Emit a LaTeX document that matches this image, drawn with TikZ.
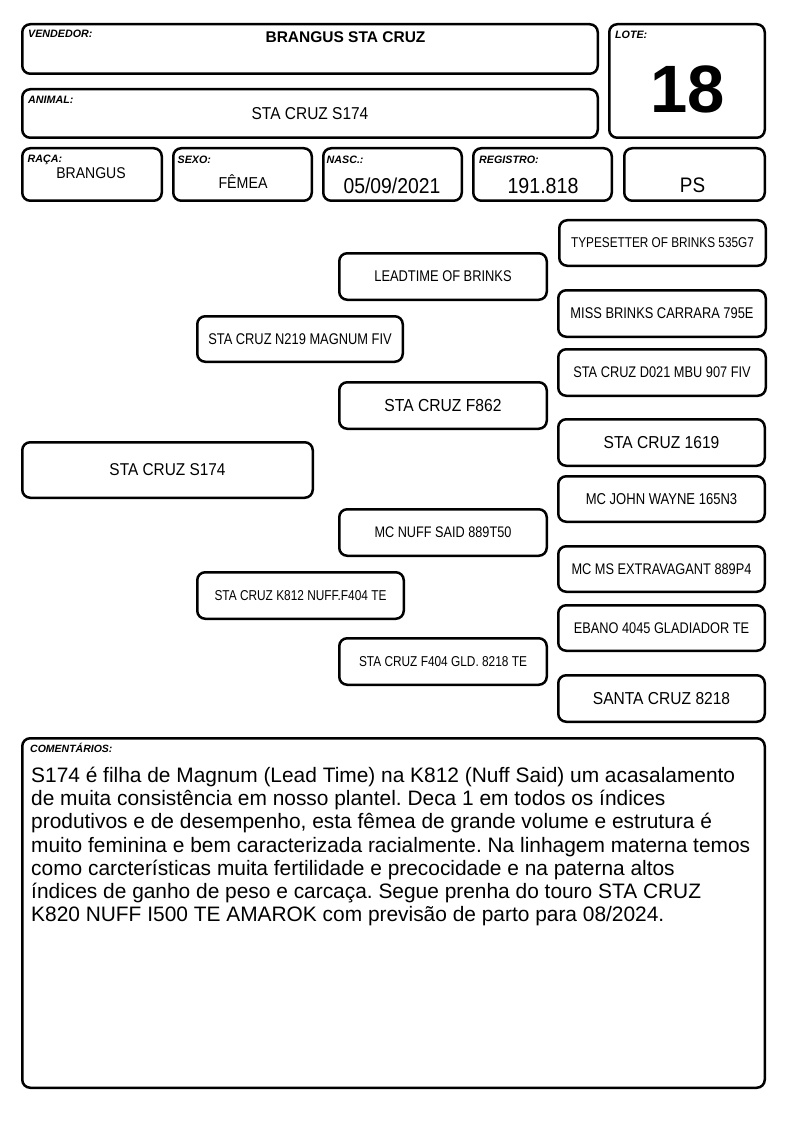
\documentclass[tikz,border=0pt]{standalone}
\usepackage{fontspec}
\setmainfont{Liberation Sans}
\newfontfamily\fa[FakeStretch=0.9]{Liberation Sans}
\newfontfamily\fb[FakeStretch=0.83]{Liberation Sans}
\frenchspacing
\tikzset{
  box/.style={draw, line width=2.5pt, rounded corners=8pt, inner sep=0pt, align=center},
  lbl/.style={anchor=base west, inner sep=0pt, font=\fontsize{10.7}{12}\selectfont\bfseries\itshape},
  val/.style={anchor=base, inner sep=0pt}
}
\newcommand\bx[7]{\node[box, minimum width={#4-#2-2.5}, minimum height={#5-#3-2.5}, font=#6] (#1) at ({(#2+#4)/2},{(#3+#5)/2}) {#7};}
\begin{document}
\begin{tikzpicture}[x=1pt,y=-1pt]
\useasboundingbox[fill=white] (0,0) rectangle (794,1123);
% header boxes
\bx{vend}{21}{23}{599}{75}{\normalfont}{}
\bx{anim}{21}{88}{599}{139}{\normalfont}{}
\bx{lote}{608}{23}{766}{139}{\normalfont}{}
\bx{raca}{21}{147}{163}{202}{\normalfont}{}
\bx{sexo}{172}{147}{313}{202}{\normalfont}{}
\bx{nasc}{322}{147}{463}{202}{\normalfont}{}
\bx{reg}{472}{147}{613}{202}{\normalfont}{}
\bx{ps}{623}{147}{766}{202}{\normalfont}{}
% header labels
\node[lbl] (lvend) at (28,38) {VENDEDOR:};
\node[lbl] (lanim) at (28,104) {ANIMAL:};
\node[lbl] (llote) at (615,38.5) {LOTE:};
\node[lbl] (lraca) at (27.5,163) {RAÇA:};
\node[lbl] (lsexo) at (177.5,163.5) {SEXO:};
\node[lbl] (lnasc) at (326.5,163.5) {NASC.:};
\node[lbl] (lreg) at (479,164) {REGISTRO:};
% header values
\node[val, font=\fontsize{15.5}{18}\selectfont\bfseries] (vvend) at (345.5,43) {BRANGUS STA CRUZ};
\node[val, font=\fa\fontsize{17.2}{20}\selectfont] (vanim) at (310,119.7) {STA CRUZ S174};
\node[val, font=\fontsize{67}{70}\selectfont\bfseries] (vlote) at (687.5,113) {18};
\node[val, font=\fa\fontsize{15.6}{18}\selectfont] (vraca) at (91,178.3) {BRANGUS};
\node[val, font=\fa\fontsize{15.8}{18}\selectfont] (vsexo) at (243,189) {FÊMEA};
\node[val, font=\fa\fontsize{21.5}{24}\selectfont] (vnasc) at (392,193.3) {05/09/2021};
\node[val, font=\fa\fontsize{21.8}{24}\selectfont] (vreg) at (543,193.3) {191.818};
\node[val, font=\fa\fontsize{21}{24}\selectfont] (vps) at (692.5,193) {PS};
% pedigree
\bx{p1}{558}{219}{767}{267}{\fb\fontsize{14.2}{16}\selectfont}{TYPESETTER OF BRINKS 535G7}
\bx{p2}{338}{252}{548}{301}{\fb\fontsize{15.5}{18}\selectfont}{LEADTIME OF BRINKS}
\bx{p3}{557}{289}{767}{338}{\fb\fontsize{15.5}{18}\selectfont}{MISS BRINKS CARRARA 795E}
\bx{p4}{196}{315}{404}{363}{\fb\fontsize{15.5}{18}\selectfont}{STA CRUZ N219 MAGNUM FIV}
\bx{p5}{557}{348}{767}{397}{\fb\fontsize{15.4}{18}\selectfont}{STA CRUZ D021 MBU 907 FIV}
\bx{p6}{338}{381}{548}{430}{\fa\fontsize{17.4}{20}\selectfont}{STA CRUZ F862}
\bx{p7}{557}{418}{766}{467}{\fa\fontsize{17.3}{20}\selectfont}{STA CRUZ 1619}
\bx{p0}{21}{441}{314}{499}{\fa\fontsize{17.1}{20}\selectfont}{STA CRUZ S174}
\bx{p8}{557}{475}{766}{523}{\fb\fontsize{15.7}{18}\selectfont}{MC JOHN WAYNE 165N3}
\bx{p9}{338}{508}{548}{557}{\fb\fontsize{15.3}{18}\selectfont}{MC NUFF SAID 889T50}
\bx{p10}{557}{545}{766}{593}{\fb\fontsize{15.4}{18}\selectfont}{MC MS EXTRAVAGANT 889P4}
\bx{p11}{196}{571}{405}{620}{\fb\fontsize{14.3}{16}\selectfont}{STA CRUZ K812 NUFF.F404 TE}
\bx{p12}{557}{604}{766}{652}{\fb\fontsize{15.4}{18}\selectfont}{EBANO 4045 GLADIADOR TE}
\bx{p13}{338}{637}{548}{686}{\fb\fontsize{14.3}{16}\selectfont}{STA CRUZ F404 GLD. 8218 TE}
\bx{p14}{557}{674}{766}{723}{\fa\fontsize{17.3}{20}\selectfont}{SANTA CRUZ 8218}
% comments
\bx{com}{21}{737}{766}{1089}{\normalfont}{}
\node[lbl, font=\fontsize{10.5}{12}\selectfont\bfseries\itshape] (lcom) at (30,752) {COMENTÁRIOS:};
\node[anchor=north west, inner sep=0pt, align=left, font=\fontsize{20.9}{23.3}\selectfont] (ctext) at (31,766.5) {S174 é filha de Magnum (Lead Time) na K812 (Nuff Said) um acasalamento\\
de muita consistência em nosso plantel. Deca 1 em todos os índices\\
produtivos e de desempenho, esta fêmea de grande volume e estrutura é\\
muito feminina e bem caracterizada racialmente. Na linhagem materna temos\\
como carcterísticas muita fertilidade e precocidade e na paterna altos\\
índices de ganho de peso e carcaça. Segue prenha do touro STA CRUZ\\
K820 NUFF I500 TE AMAROK com previsão de parto para 08/2024.};
\end{tikzpicture}
\end{document}
